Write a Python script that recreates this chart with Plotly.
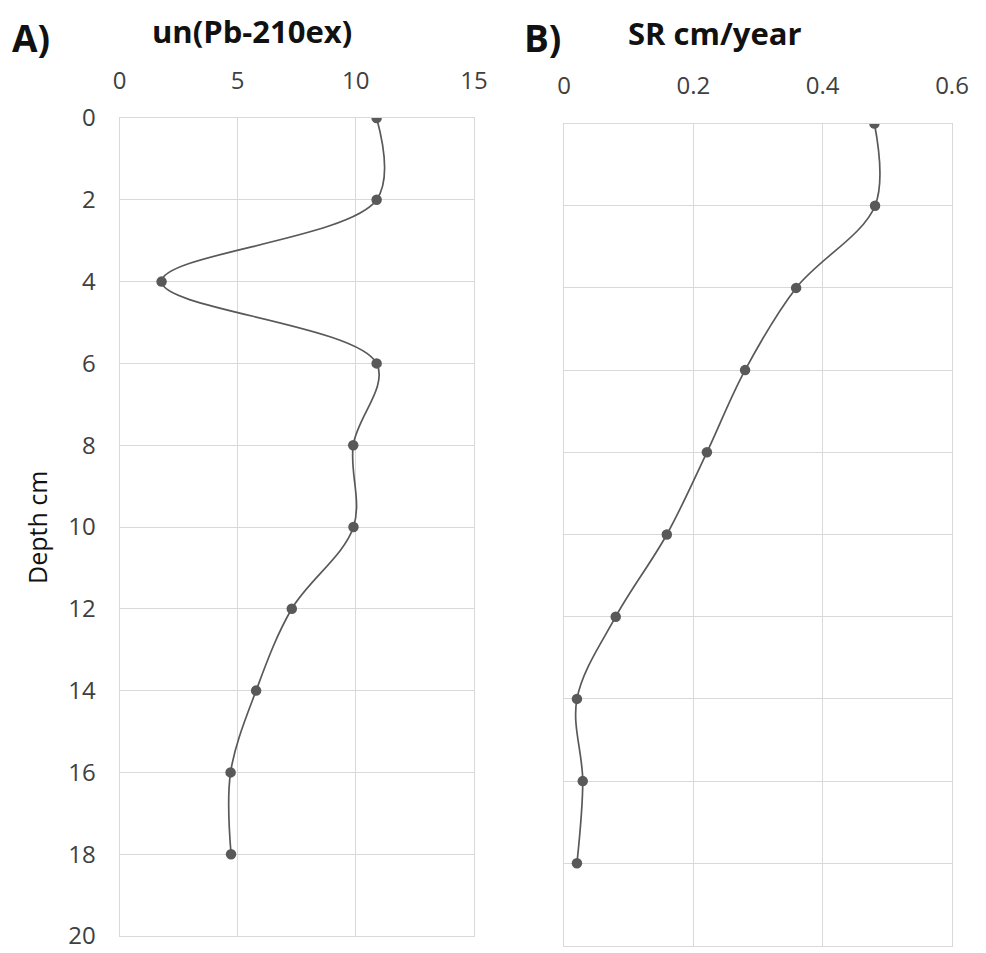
import plotly.graph_objects as go

depth = [0, 2, 4, 6, 8, 10, 12, 14, 16, 18]
pb210ex = [10.88, 10.88, 1.78, 10.88, 9.89, 9.9, 7.29, 5.78, 4.7, 4.72]
sr = [0.48, 0.481, 0.359, 0.28, 0.221, 0.159, 0.08, 0.02, 0.029, 0.02]

W, H = 986, 953
FONT = "Open Sans"
GRID = "#d9d9d9"
MARK = "#595959"
TICKC = "#404040"

def px_x(p):
    return p / W

def px_y(p):
    return 1 - p / H

fig = go.Figure()
fig.add_trace(go.Scatter(
    x=pb210ex, y=depth, xaxis="x", yaxis="y", mode="lines+markers",
    line=dict(color=MARK, width=1.7, shape="spline", smoothing=1.0),
    marker=dict(color=MARK, size=10.5), showlegend=False))
fig.add_trace(go.Scatter(
    x=sr, y=depth, xaxis="x2", yaxis="y2", mode="lines+markers",
    line=dict(color=MARK, width=1.7, shape="spline", smoothing=1.0),
    marker=dict(color=MARK, size=10.5), showlegend=False))

axis_common = dict(showgrid=True, gridcolor=GRID, gridwidth=1, showline=True,
                   linecolor=GRID, linewidth=1, mirror=True, zeroline=False,
                   tickfont=dict(family=FONT, size=24, color=TICKC), ticks="",
                   ticklabeloverflow="allow")

fig.update_layout(
    width=W, height=H, margin=dict(l=0, r=0, t=0, b=0, autoexpand=False),
    paper_bgcolor="white", plot_bgcolor="white",
    xaxis=dict(domain=[px_x(119.5), px_x(474)], range=[0, 15], dtick=5, side="top",
               anchor="y", ticklabelstandoff=18, **axis_common),
    yaxis=dict(domain=[px_y(936), px_y(118)], range=[20, 0], dtick=2, anchor="x",
               ticklabelstandoff=18, **axis_common),
    xaxis2=dict(domain=[px_x(564), px_x(952)], range=[0, 0.6], dtick=0.2, side="top",
                anchor="y2", ticklabelstandoff=19, **axis_common),
    yaxis2=dict(domain=[px_y(945.5), px_y(123.5)], range=[20, 0], dtick=2, anchor="x2",
                showticklabels=False, **{k: v for k, v in axis_common.items() if k != "tickfont"}),
)

ann = [
    dict(text="<b>A)</b>", x=px_x(10), y=px_y(37), xanchor="left", size=37),
    dict(text="<b>un(Pb-210ex)</b>", x=px_x(150), y=px_y(31), xanchor="left", size=31),
    dict(text="<b>B)</b>", x=px_x(522), y=px_y(37), xanchor="left", size=37),
    dict(text="<b>SR cm/year</b>", x=px_x(626), y=px_y(33), xanchor="left", size=31),
]
for a in ann:
    fig.add_annotation(text=a["text"], x=a["x"], y=a["y"], xref="paper", yref="paper",
                       xanchor=a["xanchor"], yanchor="middle", showarrow=False,
                       font=dict(family=FONT, size=a["size"], color="#111111"))
fig.add_annotation(text="Depth cm", x=px_x(37), y=px_y(528), xref="paper", yref="paper",
                   xanchor="center", yanchor="middle", showarrow=False, textangle=-90,
                   font=dict(family=FONT, size=25, color="#111111"))

fig.write_html("out.html", config={"displayModeBar": False, "responsive": False},
               post_script="document.body.style.margin='0';")
